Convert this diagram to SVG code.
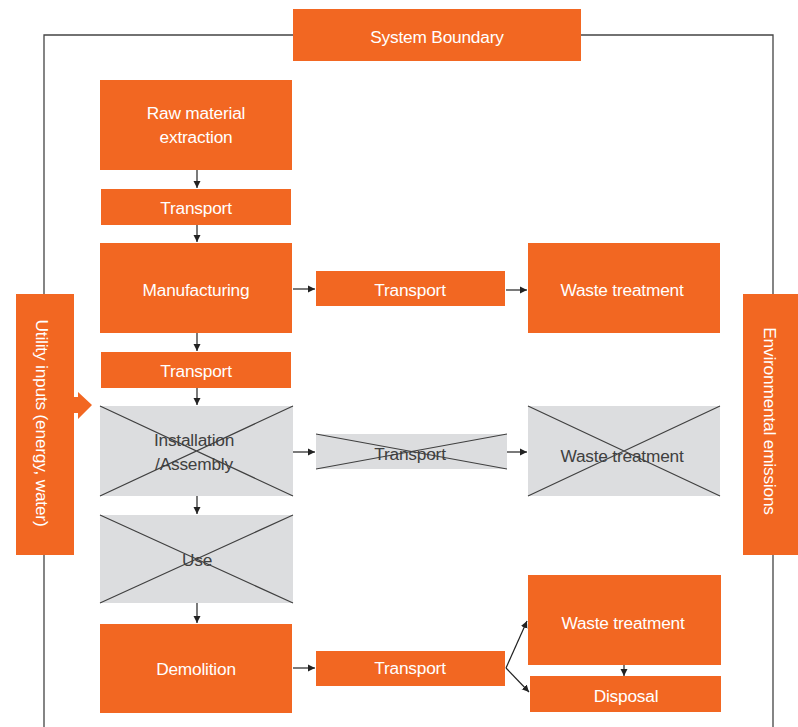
<svg xmlns="http://www.w3.org/2000/svg" width="798" height="727" viewBox="0 0 798 727">
<style>
.o{fill:#F26722}
.g{fill:#DCDDDF}
.t{font-family:"Liberation Sans",Arial,sans-serif;font-size:17.3px;fill:#fff;text-anchor:middle;dominant-baseline:central;letter-spacing:-0.2px}
.d{fill:#404040}
.x{stroke:#404040;stroke-width:1.2;fill:none}
.c{stroke:#222;stroke-width:1.2;fill:none;marker-end:url(#ah)}
</style>
<defs>
<marker id="ah" markerWidth="8" markerHeight="8" refX="7" refY="4" orient="auto" markerUnits="userSpaceOnUse">
<path d="M0,0.5 L7,4 L0,7.5 z" fill="#222"/>
</marker>
</defs>
<rect width="798" height="727" fill="#fff"/>
<g id="boundary">
<path d="M44,727 V35 H773 V727" fill="none" stroke="#444" stroke-width="1.3"/>
</g>
<g id="system-boundary"><rect class="o" x="293" y="9" width="288" height="52"/><text class="t" x="437" y="37">System Boundary</text></g>
<g id="raw"><rect class="o" x="100" y="80" width="192" height="90"/><text class="t" x="196" y="113">Raw material</text><text class="t" x="196" y="137">extraction</text></g>
<g id="transport1"><rect class="o" x="101" y="189" width="190" height="36"/><text class="t" x="196" y="208">Transport</text></g>
<g id="manufacturing"><rect class="o" x="100" y="243" width="192" height="90"/><text class="t" x="196" y="290">Manufacturing</text></g>
<g id="transport2"><rect class="o" x="101" y="352" width="190" height="36"/><text class="t" x="196" y="371">Transport</text></g>
<g id="installation"><rect class="g" x="100" y="406" width="193" height="90"/><path class="x" d="M100,406 L293,496 M100,496 L293,406"/><text class="t d" x="194" y="440">Installation</text><text class="t d" x="194" y="464">/Assembly</text></g>
<g id="use"><rect class="g" x="100" y="515" width="193" height="88"/><path class="x" d="M100,515 L293,603 M100,603 L293,515"/><text class="t d" x="197" y="560">Use</text></g>
<g id="demolition"><rect class="o" x="100" y="624" width="192" height="89"/><text class="t" x="196" y="669">Demolition</text></g>
<g id="transport-m"><rect class="o" x="316" y="271" width="189" height="35"/><text class="t" x="410" y="290">Transport</text></g>
<g id="waste1"><rect class="o" x="528" y="243" width="192" height="90"/><text class="t" x="622" y="290">Waste treatment</text></g>
<g id="transport-i"><rect class="g" x="316" y="434" width="191" height="35"/><path class="x" d="M316,434 L507,469 M316,469 L507,434"/><text class="t d" x="410" y="454">Transport</text></g>
<g id="waste2"><rect class="g" x="528" y="406" width="192" height="90"/><path class="x" d="M528,406 L720,496 M528,496 L720,406"/><text class="t d" x="622" y="456">Waste treatment</text></g>
<g id="transport-d"><rect class="o" x="316" y="651" width="189" height="35"/><text class="t" x="410" y="668">Transport</text></g>
<g id="waste3"><rect class="o" x="528" y="575" width="193" height="90"/><text class="t" x="623" y="623">Waste treatment</text></g>
<g id="disposal"><rect class="o" x="530" y="676" width="191" height="36"/><text class="t" x="626" y="696">Disposal</text></g>
<g id="utility"><rect class="o" x="16" y="294" width="58" height="261"/><text class="t" transform="translate(42,423) rotate(90)">Utility inputs (energy, water)</text></g>
<g id="emissions"><rect class="o" x="743" y="294" width="57" height="261"/><text class="t" transform="translate(770,421) rotate(90)">Environmental emissions</text></g>
<g id="connectors">
<path class="o" d="M58,397 H78 V392 L92,405 L78,419 V413 H58 Z"/>
<path class="c" d="M197,170 V188"/>
<path class="c" d="M197,225 V242"/>
<path class="c" d="M197,333 V351"/>
<path class="c" d="M197,388 V405"/>
<path class="c" d="M197,496 V514"/>
<path class="c" d="M197,603 V623"/>
<path class="c" d="M293,289 H315"/>
<path class="c" d="M506,290 H527"/>
<path class="c" d="M293,452 H315"/>
<path class="c" d="M507,452 H527"/>
<path class="c" d="M293,668 H315"/>
<path class="c" d="M506,668 L527,621"/>
<path class="c" d="M506,668 L529,692"/>
<path class="c" d="M624,665 V676"/>
</g>
</svg>
